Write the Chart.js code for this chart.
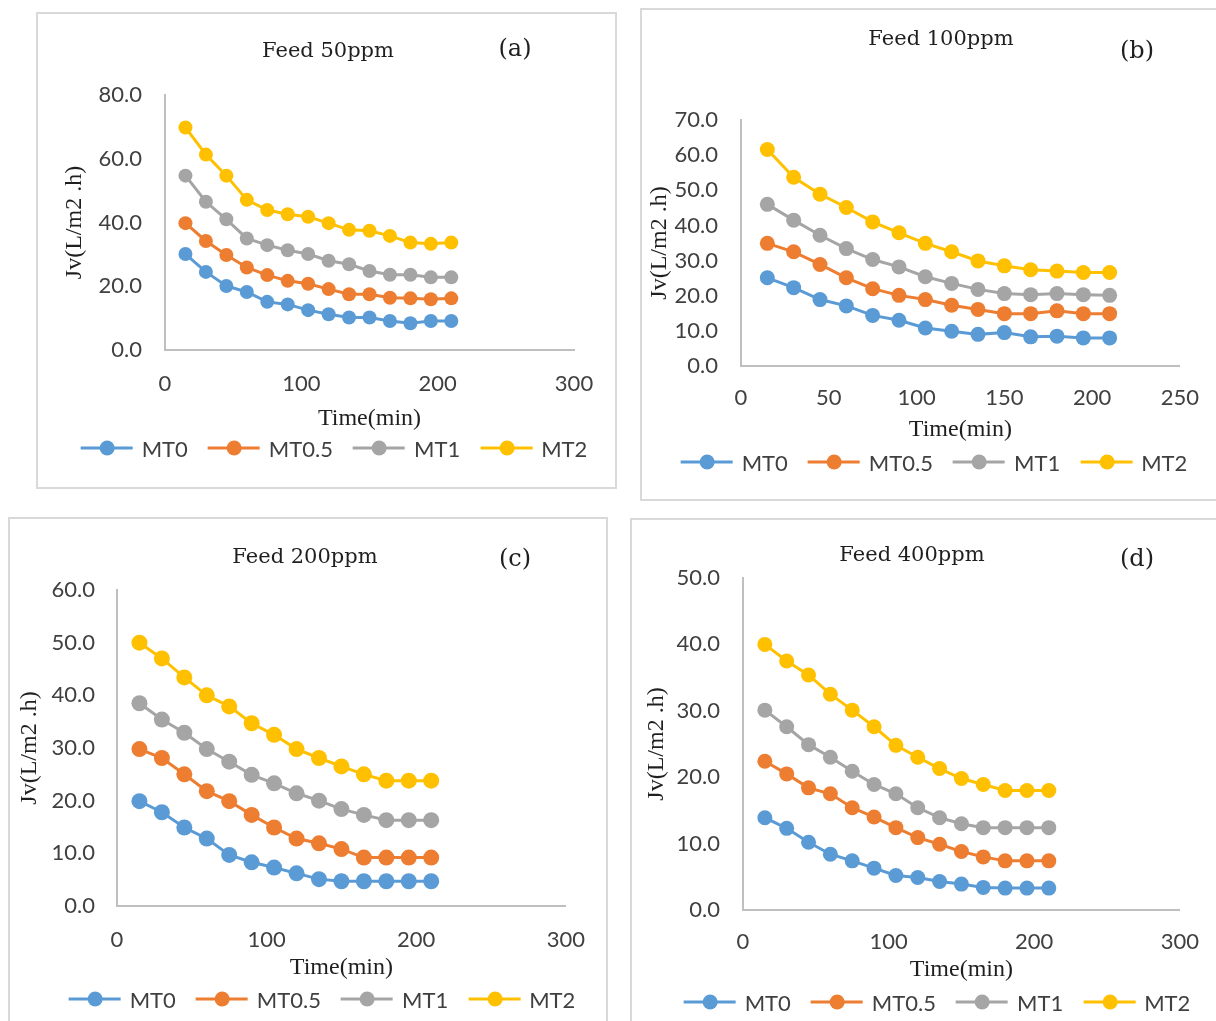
<!DOCTYPE html>
<html>
<head>
<meta charset="utf-8">
<title>Permeate flux vs time</title>
<script src="https://cdn.jsdelivr.net/npm/chart.js@4.4.1/dist/chart.umd.min.js"></script>
<style>
  html, body { margin: 0; padding: 0; background: #fff; }
  body { width: 1216px; height: 1021px; position: relative; overflow: hidden; }
  .panel { position: absolute; border: 2px solid #d9d9d9; box-sizing: border-box; }
  .panel canvas { position: absolute; left: 0; top: 0; }
  .ttl, .tag, .legend { position: absolute; transform: translate(-50%, -50%); white-space: nowrap; }
  .ttl { font-family: "DejaVu Serif", serif; font-size: 21px; color: #1f1f1f; }
  .tag { font-family: "DejaVu Serif", serif; font-size: 24px; color: #1f1f1f; }
  .legend { display: flex; align-items: center; gap: 20px; font-family: Lato, sans-serif; font-size: 22px; color: #404040; }
  .legend .item { display: flex; align-items: center; gap: 9px; }
  .legend .sw { position: relative; width: 52px; height: 15px; }
  .legend .sw i { position: absolute; left: 0; right: 0; top: 6px; height: 3px; }
  .legend .sw b { position: absolute; left: 19px; top: 0; width: 15px; height: 15px; border-radius: 50%; }
</style>
</head>
<body>
<script>
// time axis (min)
const times = [15, 30, 45, 60, 75, 90, 105, 120, 135, 150, 165, 180, 195, 210];
const seriesNames = ['MT0', 'MT0.5', 'MT1', 'MT2'];

// Jv (L/m2.h)
const mt0Feed50 = [30.1, 24.5, 20.1, 18.2, 15.1, 14.3, 12.5, 11.2, 10.2, 10.2, 9.1, 8.4, 9.1, 9.1];
const mt05Feed50 = [39.8, 34.2, 29.8, 25.9, 23.5, 21.7, 20.8, 19.1, 17.5, 17.5, 16.4, 16.2, 15.9, 16.2];
const mt1Feed50 = [54.7, 46.5, 41.0, 35.0, 32.9, 31.3, 30.1, 28.0, 26.9, 24.8, 23.6, 23.6, 22.8, 22.8];
const mt2Feed50 = [69.8, 61.3, 54.7, 47.1, 43.9, 42.6, 41.8, 39.8, 37.7, 37.4, 35.8, 33.7, 33.3, 33.7];

const mt0Feed100 = [25.1, 22.3, 18.9, 17.1, 14.4, 13.0, 10.8, 9.9, 9.0, 9.5, 8.3, 8.5, 8.0, 8.0];
const mt05Feed100 = [34.9, 32.5, 28.9, 25.1, 22.0, 20.1, 18.9, 17.3, 16.1, 14.9, 14.9, 15.7, 14.9, 14.9];
const mt1Feed100 = [46.0, 41.5, 37.2, 33.4, 30.3, 28.2, 25.4, 23.5, 21.8, 20.6, 20.3, 20.6, 20.3, 20.1];
const mt2Feed100 = [61.6, 53.7, 48.9, 45.1, 41.0, 37.9, 34.9, 32.5, 29.9, 28.5, 27.4, 27.0, 26.6, 26.6];

const mt0Feed200 = [19.9, 17.8, 14.9, 12.8, 9.7, 8.3, 7.3, 6.2, 5.1, 4.7, 4.7, 4.7, 4.7, 4.7];
const mt05Feed200 = [29.8, 28.1, 25.0, 21.8, 19.9, 17.3, 14.9, 12.8, 11.9, 10.8, 9.2, 9.2, 9.2, 9.2];
const mt1Feed200 = [38.5, 35.4, 32.9, 29.8, 27.4, 24.9, 23.3, 21.4, 20.0, 18.4, 17.3, 16.3, 16.3, 16.3];
const mt2Feed200 = [50.0, 47.0, 43.4, 40.0, 37.9, 34.7, 32.5, 29.8, 28.1, 26.5, 25.0, 23.8, 23.8, 23.8];

const mt0Feed400 = [13.9, 12.3, 10.2, 8.4, 7.4, 6.3, 5.2, 4.9, 4.3, 3.9, 3.4, 3.3, 3.3, 3.3];
const mt05Feed400 = [22.4, 20.5, 18.4, 17.5, 15.4, 14.0, 12.4, 10.9, 9.9, 8.8, 8.0, 7.4, 7.4, 7.4];
const mt1Feed400 = [30.1, 27.6, 24.9, 23.0, 20.9, 18.9, 17.5, 15.4, 13.9, 13.0, 12.4, 12.4, 12.4, 12.4];
const mt2Feed400 = [40.0, 37.5, 35.4, 32.5, 30.1, 27.6, 24.8, 23.0, 21.3, 19.8, 18.9, 18.0, 18.0, 18.0];

// axis ticks
const xTicks300 = [0, 100, 200, 300];
const xTicks250 = [0, 50, 100, 150, 200, 250];
const yTicks80 = [0, 20, 40, 60, 80];
const yTicks70 = [0, 10, 20, 30, 40, 50, 60, 70];
const yTicks60 = [0, 10, 20, 30, 40, 50, 60];
const yTicks50 = [0, 10, 20, 30, 40, 50];

const colors = ['#5b9bd5', '#ed7d31', '#a5a5a5', '#ffc000'];

const panels = [
  {tag: '(a)', title: 'Feed 50ppm', series: [mt0Feed50, mt05Feed50, mt1Feed50, mt2Feed50],
   xTicks: xTicks300, yTicks: yTicks80,
   frame: [36, 12, 581, 477], pad: {left: 23, right: 41, top: 81, bottom: 56},
   yWidth: 104, xHeight: 81, xTickPad: 21, yTickPad: 23, radius: 7,
   titleAt: [328, 50], tagAt: [515, 48], legendAt: [334, 448]},
  {tag: '(b)', title: 'Feed 100ppm', series: [mt0Feed100, mt05Feed100, mt1Feed100, mt2Feed100],
   xTicks: xTicks250, yTicks: yTicks70,
   frame: [640, 8, 580, 493], pad: {left: 4, right: 34, top: 110, bottom: 57},
   yWidth: 95, xHeight: 76, xTickPad: 19, yTickPad: 23, radius: 7.5,
   titleAt: [941, 38], tagAt: [1137, 50], legendAt: [934, 462]},
  {tag: '(c)', title: 'Feed 200ppm', series: [mt0Feed200, mt05Feed200, mt1Feed200, mt2Feed200],
   xTicks: xTicks300, yTicks: yTicks60,
   frame: [8, 517, 600, 506], pad: {left: 6, right: 36, top: 71, bottom: 41},
   yWidth: 101, xHeight: 74, xTickPad: 21, yTickPad: 22, radius: 8,
   titleAt: [305, 556], tagAt: [515, 558], legendAt: [322, 999]},
  {tag: '(d)', title: 'Feed 400ppm', series: [mt0Feed400, mt05Feed400, mt1Feed400, mt2Feed400],
   xTicks: xTicks300, yTicks: yTicks50,
   frame: [630, 518, 590, 505], pad: {left: 11, right: 30, top: 58, bottom: 39},
   yWidth: 100, xHeight: 72, xTickPad: 19, yTickPad: 23, radius: 7.5,
   titleAt: [912, 554], tagAt: [1137, 558], legendAt: [937, 1002]}
];

const tickFont = {family: 'Lato', size: 22};
const axisTitleFont = {family: '"Liberation Serif", "Times New Roman", serif', size: 24};

function place(el, at) {
  el.style.left = at[0] + 'px';
  el.style.top = at[1] + 'px';
  document.body.appendChild(el);
}

function buildLegend(chart, at) {
  const box = document.createElement('div');
  box.className = 'legend';
  chart.data.datasets.forEach(ds => {
    const item = document.createElement('div');
    item.className = 'item';
    const sw = document.createElement('span');
    sw.className = 'sw';
    sw.innerHTML = '<i></i><b></b>';
    sw.querySelector('i').style.background = ds.borderColor;
    sw.querySelector('b').style.background = ds.borderColor;
    const txt = document.createElement('span');
    txt.textContent = ds.label;
    item.appendChild(sw);
    item.appendChild(txt);
    box.appendChild(item);
  });
  place(box, at);
}

panels.forEach(p => {
  const [fx, fy, fw, fh] = p.frame;
  const frame = document.createElement('div');
  frame.className = 'panel';
  Object.assign(frame.style, {left: fx + 'px', top: fy + 'px', width: fw + 'px', height: fh + 'px'});
  const canvas = document.createElement('canvas');
  canvas.width = fw - 4;
  canvas.height = fh - 4;
  frame.appendChild(canvas);
  document.body.appendChild(frame);

  const chart = new Chart(canvas.getContext('2d'), {
    type: 'line',
    data: {
      datasets: p.series.map((vals, i) => ({
        label: seriesNames[i],
        data: times.map((t, k) => ({x: t, y: vals[k]})),
        borderColor: colors[i],
        backgroundColor: colors[i],
        pointBackgroundColor: colors[i],
        borderWidth: 3,
        pointRadius: p.radius,
        pointBorderWidth: 0,
        pointHoverRadius: p.radius,
        tension: 0,
        fill: false
      }))
    },
    options: {
      responsive: false,
      animation: false,
      events: [],
      layout: {padding: p.pad},
      plugins: {legend: {display: false}, tooltip: {enabled: false}},
      scales: {
        x: {
          type: 'linear',
          min: p.xTicks[0],
          max: p.xTicks[p.xTicks.length - 1],
          grid: {display: false, drawTicks: false},
          border: {display: true, color: '#bfbfbf', width: 2},
          ticks: {stepSize: p.xTicks[1] - p.xTicks[0], padding: p.xTickPad, font: tickFont, color: '#404040'},
          title: {display: true, text: 'Time(min)', font: Object.assign({lineHeight: 1}, axisTitleFont), color: '#1f1f1f', padding: 0},
          afterFit: s => { s.height = p.xHeight; }
        },
        y: {
          min: p.yTicks[0],
          max: p.yTicks[p.yTicks.length - 1],
          grid: {display: false, drawTicks: false},
          border: {display: true, color: '#bfbfbf', width: 2},
          ticks: {stepSize: p.yTicks[1] - p.yTicks[0], padding: p.yTickPad, font: tickFont, color: '#404040',
                  callback: v => v.toFixed(1)},
          title: {display: true, text: 'Jv(L/m2 .h)', font: Object.assign({lineHeight: 1.15}, axisTitleFont), color: '#1f1f1f', padding: 0},
          afterFit: s => { s.width = p.yWidth; }
        }
      }
    }
  });

  const ttl = document.createElement('div');
  ttl.className = 'ttl';
  ttl.textContent = p.title;
  place(ttl, p.titleAt);

  const tag = document.createElement('div');
  tag.className = 'tag';
  tag.textContent = p.tag;
  place(tag, p.tagAt);

  buildLegend(chart, p.legendAt);
});
</script>
</body>
</html>
